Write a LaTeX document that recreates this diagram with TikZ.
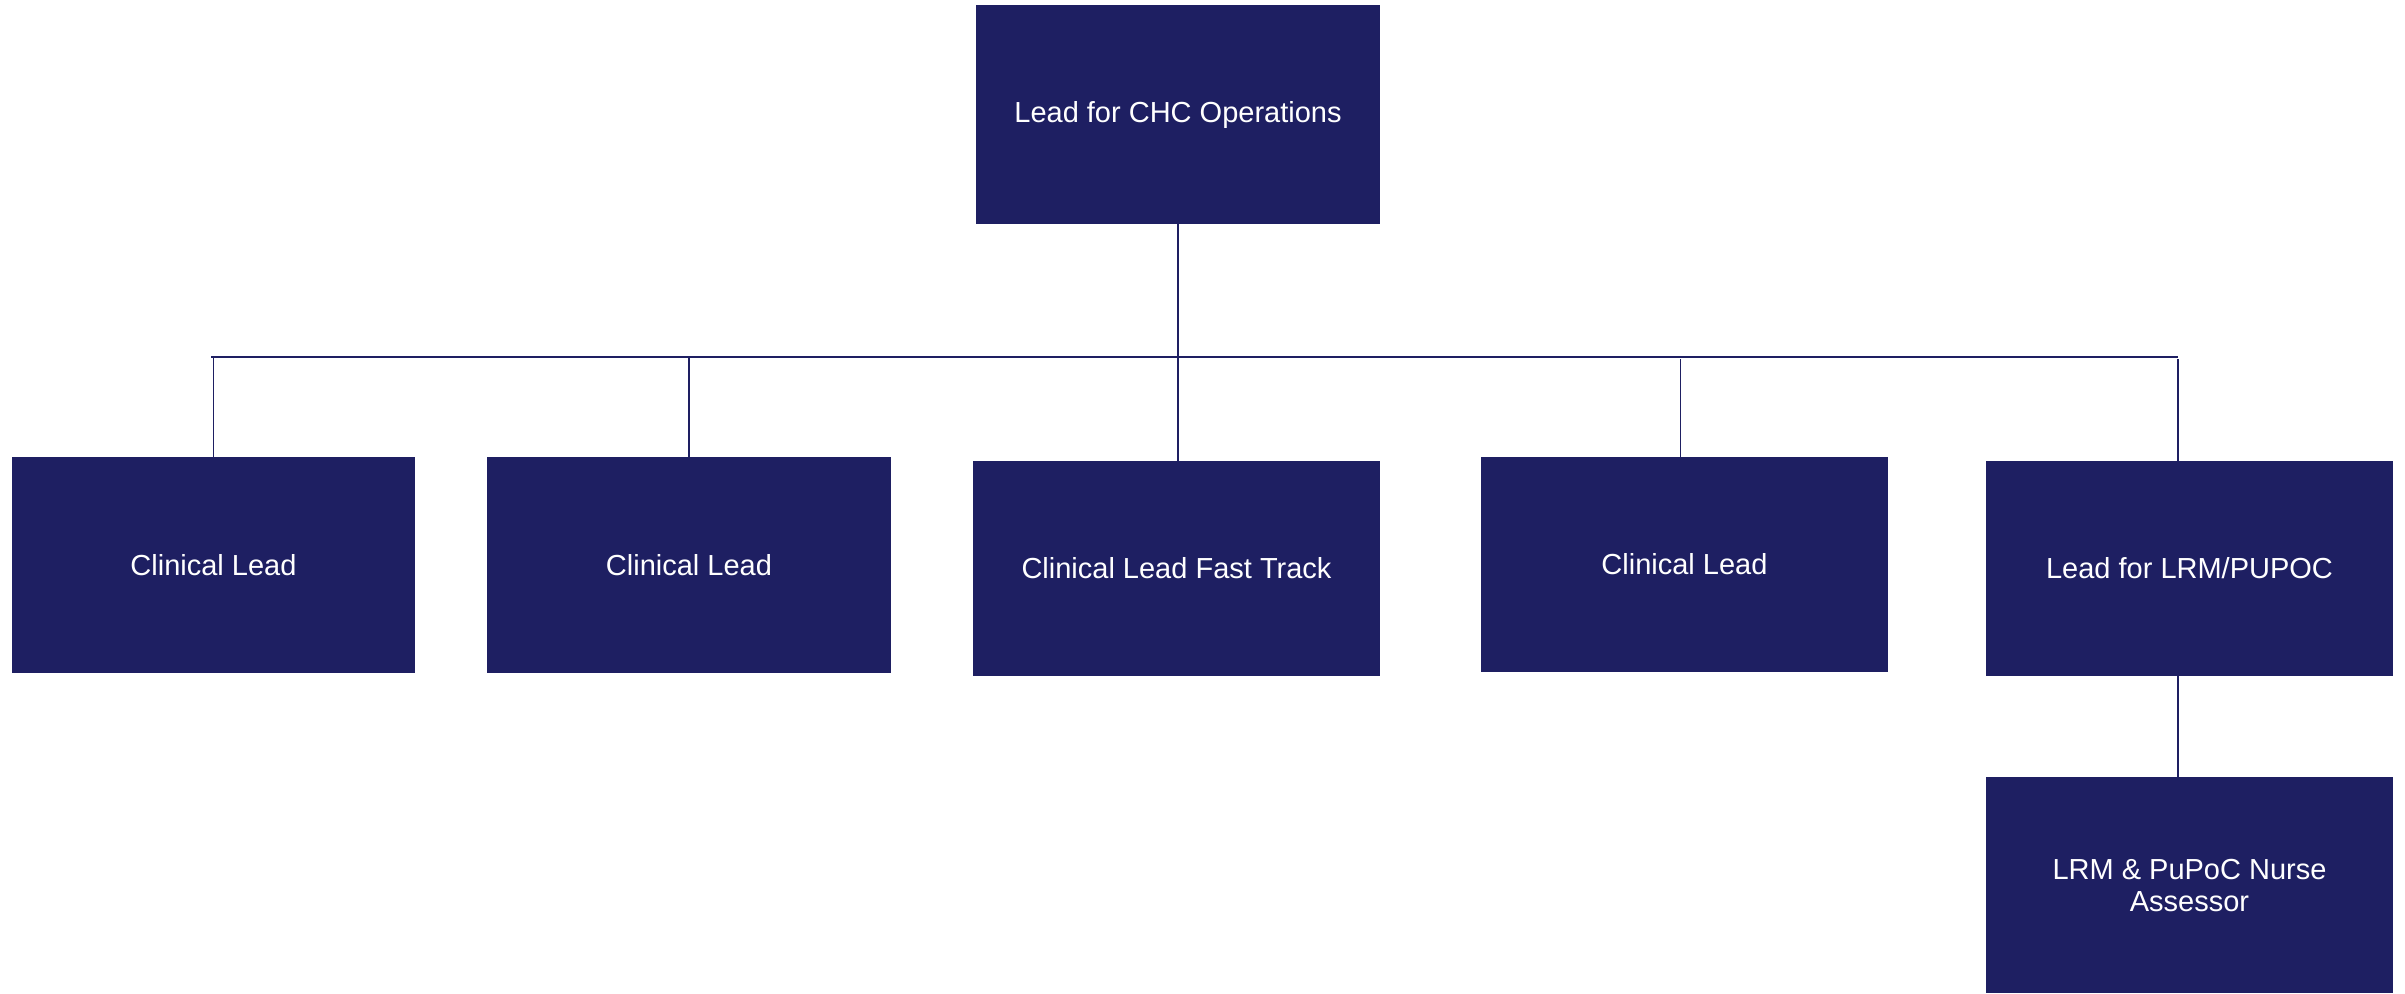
\documentclass[tikz,border=0pt]{standalone}
\usepackage{fontspec}
\setmainfont{Liberation Sans}
\definecolor{navy}{HTML}{1E1F62}
\begin{document}
\begin{tikzpicture}[x=0.5pt,y=-0.5pt,
  box/.style={draw=none,fill=navy,text=white,inner sep=0pt,align=center,
    font=\fontsize{14.5}{16}\selectfont},
  link/.style={draw=navy,line width=0.9pt}]
\useasboundingbox (0,0) rectangle (2405,993);
\newcommand{\orgbox}[6]{%
  \node[box,minimum width={(#4-#2)*0.5pt},minimum height={(#5-#3)*0.5pt}]
    (#1) at ({(#2+#4)/2},{(#3+#5)/2}) {#6};}
\orgbox{top}{976}{5}{1380}{224}{Lead for CHC Operations}
\orgbox{c1}{12}{457}{415}{673}{Clinical Lead}
\orgbox{c2}{487}{457}{891}{673}{Clinical Lead}
\orgbox{ft}{973}{461}{1380}{676}{Clinical Lead Fast Track}
\orgbox{c4}{1481}{457}{1888}{672}{Clinical Lead}
\orgbox{lrm}{1986}{461}{2393}{676}{Lead for LRM/PUPOC}
\orgbox{nurse}{1986}{777}{2393}{993}{LRM \& PuPoC Nurse\\Assessor}
\coordinate (barL) at (211,357);
\coordinate (barR) at (2178,357);
\draw[link] (barL) -- (barR);
\draw[link] (top.south) -- (top.south |- ft.north);
\draw[link] (213.5,357) -- (c1.north);
\draw[link] (689,357) -- (c2.north);
\draw[link] (1680.5,359) -- (1680.5,457);
\draw[link] (2178,359) -- (2178,461);
\draw[link] (2178,676) -- (2178,777);
\end{tikzpicture}
\end{document}
